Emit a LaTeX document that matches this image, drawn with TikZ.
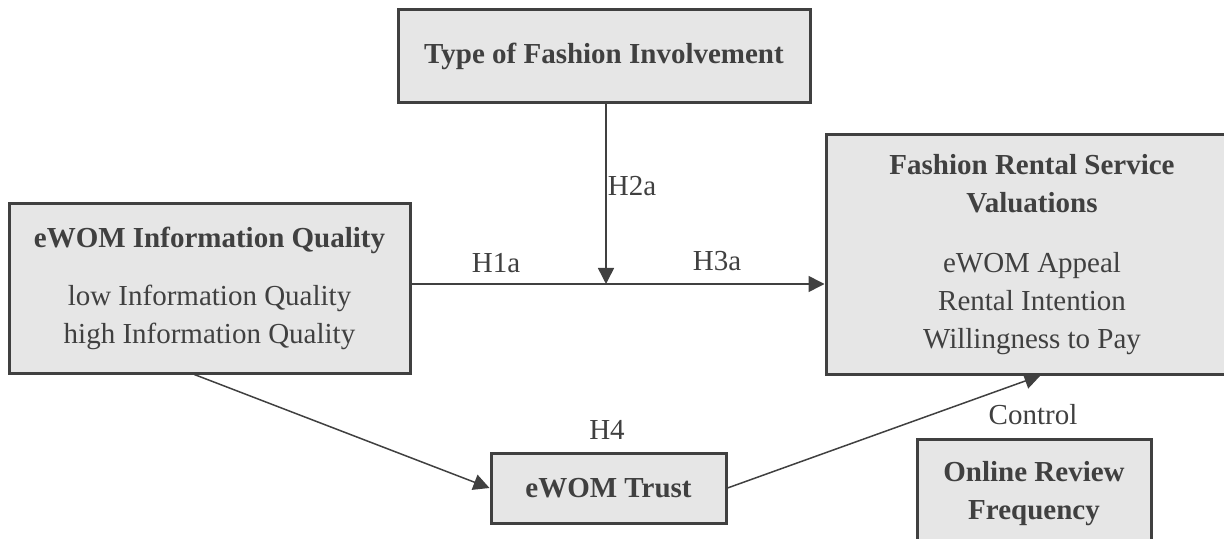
\documentclass[tikz,border=0pt]{standalone}
\usepackage{fontspec}
\setmainfont{Liberation Serif}
\usetikzlibrary{arrows.meta}
\definecolor{boxgray}{HTML}{E6E6E6}
\definecolor{inkgray}{HTML}{404040}

\begin{document}
\begin{tikzpicture}[x=0.5pt, y=-0.5pt,
  box/.style={draw=inkgray, line width=1.5pt, fill=boxgray, text=inkgray, align=center, inner sep=0pt, font=\fontsize{14.5}{19}\selectfont},
  lbl/.style={text=inkgray, font=\fontsize{14.5}{19}\selectfont},
  link/.style={draw=inkgray, line width=0.75pt, -{Triangle[length=8pt, width=8pt]}}]
\useasboundingbox (0,0) rectangle (1224,539);

\node[box, minimum width=206pt, minimum height=46.5pt] (inv) at (604, 56.5) {\textbf{Type of Fashion Involvement}};
\node[box, minimum width=200.5pt, minimum height=84.5pt] (iq) at (209.5, 288.5) {\textbf{eWOM Information Quality}\\[10pt] low Information Quality\\ high Information Quality};
\node[box, minimum width=206pt, minimum height=119.5pt] (val) at (1032, 254.5) {\textbf{Fashion Rental Service}\\ \textbf{Valuations}\\[11pt] eWOM Appeal\\ Rental Intention\\ Willingness to Pay};
\node[box, minimum width=117.5pt, minimum height=35pt] (trust) at (608.5, 488) {\textbf{eWOM Trust}};
\node[box, minimum width=117pt, minimum height=54.5pt] (freq) at (1034, 493.5) {\textbf{Online Review}\\ \textbf{Frequency}};

\coordinate (mid) at (606, 284);

\draw[link] (inv.south -| mid) -- (mid);
\draw[link] (iq.east |- mid) -- (val.west |- mid);
\draw[link] (iq.260) -- (trust.west);
\draw[link] (trust.east) -- (val.274);

\node[lbl] (h2a) at (632, 186) {H2a};
\node[lbl] (h1a) at (496, 263) {H1a};
\node[lbl] (h3a) at (717, 261) {H3a};
\node[lbl] (h4) at (607, 430) {H4};
\node[lbl] (ctrl) at (1033, 415) {Control};

\end{tikzpicture}
\end{document}
